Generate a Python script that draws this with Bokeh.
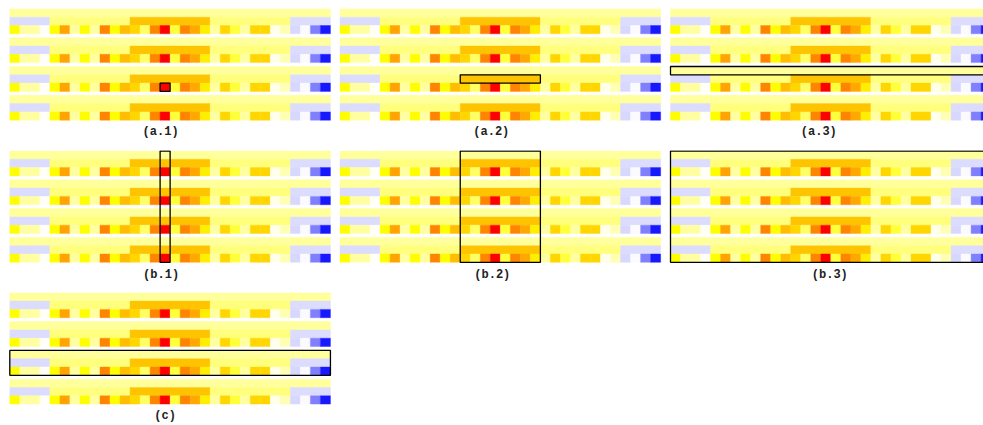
import numpy as np
from bokeh.plotting import figure
from bokeh.layouts import column, row
from bokeh.models import ColumnDataSource, LinearColorMapper, Range1d
from bokeh.transform import transform
from bokeh.core.properties import value
from bokeh.embed import file_html
from bokeh.resources import INLINE

# ---------------- data ----------------
n_cells = 32
n_blocks = 4

# top row: one strip
top_starts = [0]
top_ends = [32]
top_values = [0.13]

# middle row: grouped segments
mid_starts = [0, 4, 12, 20, 28]
mid_ends = [4, 12, 20, 28, 32]
mid_values = [-0.14, 0.17, 0.50, 0.17, -0.14]

# bottom row: individual cells
bottom_values = [0.33, 0.12, 0.12, 0.01, 0.33, 0.60, 0.12, 0.33,
                 0.12, 0.68, 0.33, 0.52, 0.45, 0.20, 0.68, 1.00,
                 0.25, 0.68, 0.58, 0.38, 0.12, 0.45, 0.25, 0.12,
                 0.45, 0.45, 0.03, 0.10, -0.15, -0.02, -0.50, -0.90]

panel_labels = ["(a.1)", "(a.2)", "(a.3)", "(b.1)", "(b.2)", "(b.3)", "(c)"]
# highlighted selection: first cell, last cell (exclusive), blocks, rows
sel_start = [15, 12, 0, 15, 12, 0, 0]
sel_end = [16, 20, 32, 16, 20, 32, 32]
sel_blocks = [[2], [2], [2], [0, 1, 2, 3], [0, 1, 2, 3], [0, 1, 2, 3], [2]]
sel_rows = [[2], [1], [0], [0, 1, 2], [0, 1, 2], [0, 1, 2], [0, 1, 2]]

# ---------------- colours ----------------
stops = [-1.0, -0.5, 0.0, 0.33, 0.67, 1.0]
stop_rgb = np.array([(0, 0, 255), (128, 128, 255), (255, 255, 255),
                     (255, 255, 0), (255, 140, 0), (255, 0, 0)], dtype=float)
grid = np.linspace(-1, 1, 256)
palette = []
for g in grid:
    rgb = [int(round(np.interp(g, stops, stop_rgb[:, k]))) for k in range(3)]
    palette.append("#%02x%02x%02x" % tuple(rgb))
mapper = LinearColorMapper(palette=palette, low=-1, high=1)

# ---------------- geometry ----------------
PX_X = 10.02
PX_Y = 8.3
GAP = 0.47
PITCH = 3 + GAP
label_x = [15.05, 15.1, 14.8, 15.1, 15.2, 15.9, 15.5]
fig_widths = [338, 330, 315]
fig_heights = [150, 142, 133]
pad_left = [9.3, 1.5, 2.0]     # px between figure edge and panel
pad_top = [8.4, 0.5, 0.3]


def block_top(b):
    return -b * PITCH


def make_source():
    L, R, B, T, V = [], [], [], [], []
    rows_def = [(top_starts, top_ends, top_values),
                (mid_starts, mid_ends, mid_values),
                (list(range(n_cells)), list(range(1, n_cells + 1)), bottom_values)]
    for b in range(n_blocks):
        t0 = block_top(b)
        for r, (s, e, v) in enumerate(rows_def):
            for si, ei, vi in zip(s, e, v):
                L.append(si); R.append(ei)
                T.append(t0 - r); B.append(t0 - r - 1)
                V.append(vi)
    return ColumnDataSource(dict(left=L, right=R, bottom=B, top=T, v=V))


def make_panel(i):
    c, r = i % 3, i // 3
    width, height = fig_widths[c], fig_heights[r]
    x0 = -pad_left[c] / PX_X
    y1 = pad_top[r] / PX_Y
    p = figure(width=width, height=height, toolbar_location=None, output_backend="svg",
               x_range=Range1d(x0, x0 + width / PX_X), y_range=Range1d(y1 - height / PX_Y, y1),
               x_axis_location=None, y_axis_location=None, min_border=0, title=None,
               outline_line_color=None, background_fill_color="white", border_fill_color="white")
    p.grid.visible = False
    src = make_source()
    p.quad(left="left", right="right", bottom="bottom", top="top", source=src,
           fill_color=transform("v", mapper), line_color=transform("v", mapper), line_width=0.4)
    bl, rw = sel_blocks[i], sel_rows[i]
    top = block_top(min(bl)) - min(rw)
    bot = block_top(max(bl)) - max(rw) - 1
    p.quad(left=[sel_start[i]], right=[sel_end[i]], bottom=[bot], top=[top],
           fill_color=None, line_color="black", line_width=1.3)
    p.text(x=[label_x[i]], y=[-123.5 / PX_Y], text=[panel_labels[i]],
           text_font=value("Liberation Mono"), text_font_style="bold", text_font_size="12px",
           text_align="center", text_baseline="middle", text_color="#222222")
    return p


figs = [make_panel(i) for i in range(7)]

layout = column(row(figs[0], figs[1], figs[2]),
                row(figs[3], figs[4], figs[5]),
                row(figs[6]))

open("out.html", "w").write(file_html(layout, INLINE))
